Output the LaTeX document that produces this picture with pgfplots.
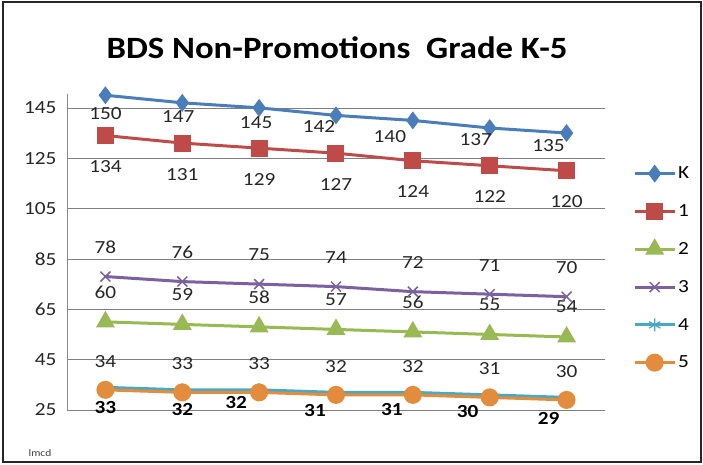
\documentclass[border=0pt]{standalone}
\usepackage{pgfplots}
\pgfplotsset{compat=1.18}
\usepackage{fontspec}
\setmainfont{Carlito}
\newcommand{\hs}[1]{\scalebox{1.15}[1]{#1}}
\definecolor{cK}{HTML}{4A7EBB}
\definecolor{c1}{HTML}{BE4B48}
\definecolor{c2}{HTML}{98B954}
\definecolor{c3}{HTML}{7D60A0}
\definecolor{c4}{HTML}{46AAC5}
\definecolor{c5}{HTML}{E38C3E}
\begin{document}
\begin{tikzpicture}
\useasboundingbox (0,0) rectangle (703bp,465bp);
\draw[line width=2bp, black!85] (2.5bp,2.5bp) rectangle (700.5bp,462.5bp);
\node[font=\fontsize{31bp}{36bp}\selectfont\bfseries] at (337bp,417bp) {\scalebox{1.12}[1]{BDS Non-Promotions\ \ Grade K-5}};
\node[font=\fontsize{10bp}{11bp}\selectfont, text=black!75] at (40bp,12bp) {\hs{lmcd}};
\begin{axis}[
  at={(67bp,55bp)}, anchor=south west,
  scale only axis, width=538bp, height=316bp,
  xmin=-0.5, xmax=6.5, ymin=25, ymax=150.5,
  clip=false,
  axis x line=none,
  axis y line*=left,
  y axis line style={draw=black!45, line width=0.6bp, -},
  ytick={25,45,65,85,105,125,145},
  yticklabel={\hs{\pgfmathprintnumber{\tick}}},
  xtick={0,1,2,3,4,5,6},
  xticklabels={\hs{2013-14},\hs{2014-15},\hs{2015-16},\hs{2016-17},\hs{2017-18},\hs{2018-19},\hs{2019-20}},
  ymajorgrids, grid style={black!50, line width=0.6bp},
  major tick length=0pt,
  tick label style={font=\fontsize{18.5bp}{22bp}\selectfont, text=black!85},
  /pgf/number format/assume math mode=true,
  yticklabel style={xshift=-7bp},
  xticklabel style={yshift=-2bp},
  every axis plot/.append style={line width=3bp},
  nodes near coords={\hs{\pgfmathprintnumber{\pgfplotspointmeta}}},
  every node near coord/.append style={font=\fontsize{18.5bp}{22bp}\selectfont, text=black!85, anchor=center},
  legend style={at={(rel axis cs:1,0.449)}, anchor=west, xshift=28bp, draw=none, fill=none,
    font=\fontsize{18.5bp}{22bp}\selectfont, row sep=20.4bp, inner sep=0pt},
  legend cell align=left,
  legend image code/.code={\draw[mark repeat=2,mark phase=2] plot coordinates {(0bp,0bp) (20bp,0bp) (40bp,0bp)};},
]
\addplot[color=cK, mark=diamond*, mark size=6.5bp,
  visualization depends on={\thisrow{dx}\as\dx},
  visualization depends on={\thisrow{dy}\as\dy},
  every node near coord/.append style={xshift=\dx bp, yshift=\dy bp}] table[x=x, y=y] {
x y dx dy
0 150 0 -18
1 147 -4 -14
2 145 -3 -15
3 142 -17 -11
4 140 -23 -16
5 137 -14 -12
6 135 -18 -13
};
\addlegendentry{\hs{K}}
\addplot[color=c1, mark=square*, mark size=7bp, every node near coord/.append style={yshift=-31bp}] coordinates {(0,134) (1,131) (2,129) (3,127) (4,124) (5,122) (6,120)};
\addlegendentry{\hs{1}}
\addplot[color=c2, mark=triangle*, mark size=8bp, every node near coord/.append style={yshift=30bp}] coordinates {(0,60) (1,59) (2,58) (3,57) (4,56) (5,55) (6,54)};
\addlegendentry{\hs{2}}
\addplot[color=c3, mark=x, mark size=7bp, mark options={line width=1.5bp}, every node near coord/.append style={yshift=29bp}] coordinates {(0,78) (1,76) (2,75) (3,74) (4,72) (5,71) (6,70)};
\addlegendentry{\hs{3}}
\addplot[color=c4, mark=asterisk, mark size=6.5bp, mark options={line width=1.3bp}, every node near coord/.append style={yshift=26bp}] coordinates {(0,34) (1,33) (2,33) (3,32) (4,32) (5,31) (6,30)};
\addlegendentry{\hs{4}}
\addplot[color=c5, mark=*, mark size=7.5bp,
  visualization depends on={\thisrow{dx}\as\dx},
  visualization depends on={\thisrow{dy}\as\dy},
  every node near coord/.append style={xshift=\dx bp, yshift=\dy bp, font=\fontsize{18.5bp}{22bp}\selectfont\bfseries, text=black}] table[x=x, y=y] {
x y dx dy
0 33 0 -18
1 32 0 -17.5
2 32 -23 -10.5
3 31 -21 -16
4 31 -21 -15
5 30 -22 -14
6 29 -18 -19
};
\addlegendentry{\hs{5}}
\end{axis}
\end{tikzpicture}
\end{document}
